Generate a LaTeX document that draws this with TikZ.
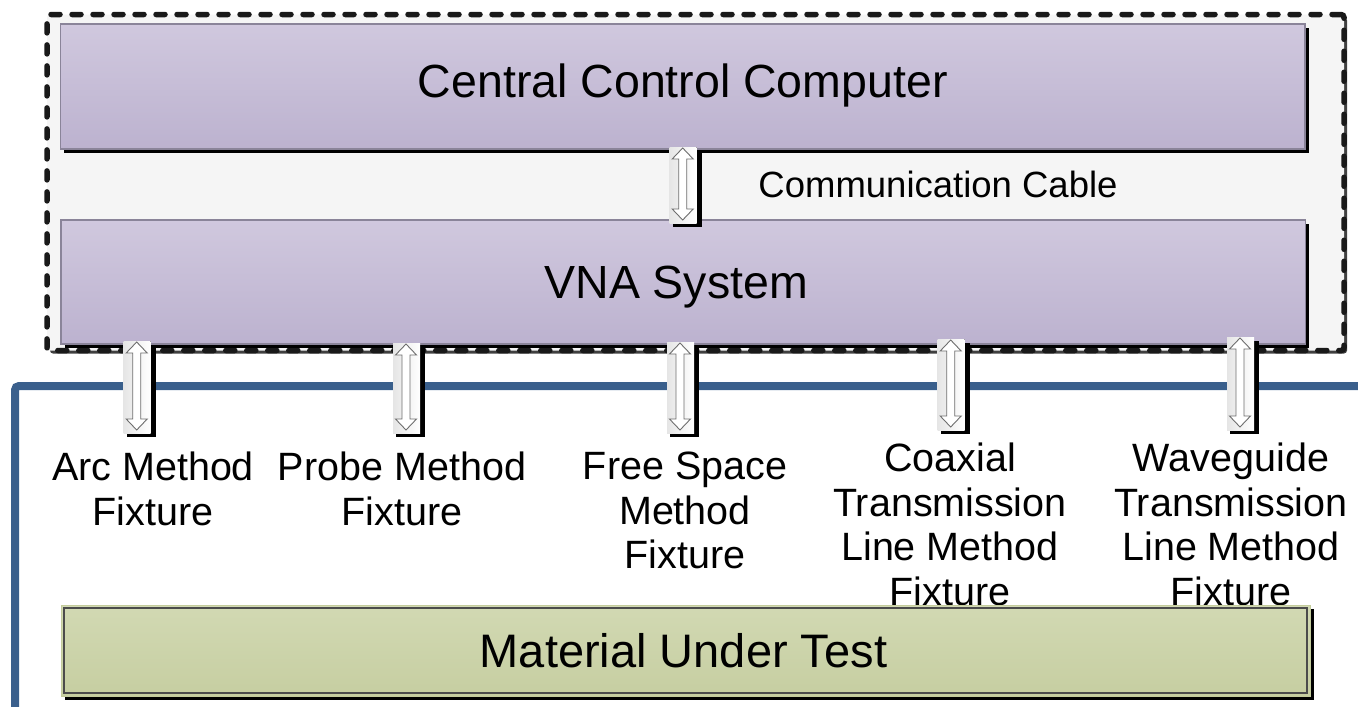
\documentclass[tikz,border=0pt]{standalone}
\usepackage{fontspec}
\setmainfont{Liberation Sans}
\usetikzlibrary{calc,shadows}
\definecolor{lavtop}{HTML}{D0C8DE}
\definecolor{lavbot}{HTML}{BCB2CF}
\definecolor{lavline}{HTML}{8A8499}
\definecolor{grntop}{HTML}{D2D9B3}
\definecolor{grnbot}{HTML}{C6CEA1}
\definecolor{grnedge}{HTML}{C4CC9C}
\definecolor{grnline}{HTML}{4B4B4B}
\definecolor{bluel}{HTML}{3A5F8C}
\definecolor{panelfill}{HTML}{F5F5F5}
\definecolor{arrline}{HTML}{6E6E6E}
\tikzset{
  dblarr/.pic={
    \fill[black] (-10,3) rectangle (19,#1+7);
    \fill[left color=black!10, right color=white] (-13,-1) rectangle (14,#1+3);
    \draw[arrline, fill=white, line width=0.9pt, line join=miter]
      (0,0) -- (10.5,11) -- (4,11) -- (4,#1-11) -- (10.5,#1-11) -- (0,#1)
      -- (-10.5,#1-11) -- (-4,#1-11) -- (-4,11) -- (-10.5,11) -- cycle;
  }
}
\begin{document}
\begin{tikzpicture}[x=1pt,y=-1pt,
  hardshadow/.style={drop shadow={shadow xshift=3.5pt, shadow yshift=-4pt, fill=black, opacity=1}},
  panelbox/.style={draw=black!90, line width=5.5pt, dash pattern=on 9pt off 12pt, line cap=round,
    fill=panelfill, rounded corners=3pt, minimum width=1297pt, minimum height=336pt, inner sep=0pt,
    drop shadow={shadow xshift=3pt, shadow yshift=-3pt, fill=black!75, opacity=1}},
  lavbox/.style={draw=lavline, line width=1.5pt, top color=lavtop, bottom color=lavbot,
    minimum width=1244.5pt, inner sep=0pt, font=\fontsize{46.5}{52}\selectfont, text depth=0pt, hardshadow},
  grnbox/.style={draw=grnedge, line width=1pt, top color=grntop, bottom color=grnbot,
    minimum width=1249pt, minimum height=91pt, inner sep=0pt, font=\fontsize{47}{52}\selectfont,
    text depth=0pt, hardshadow},
  fixlbl/.style={anchor=north, align=center, inner sep=0pt, font=\fontsize{39.5}{44.5}\selectfont},
  cablelbl/.style={anchor=base, inner sep=0pt, font=\fontsize{36.5}{40}\selectfont},
  blueline/.style={draw=bluel, line width=8pt, rounded corners=4pt}
]
\useasboundingbox (0,0) rectangle (1358,707);

% control system panel
\node[panelbox] (frame) at (695.5,182.5) {};
\node[lavbox, minimum height=125pt, text depth=11pt] (ccc) at (682.75,86.5) {Central Control Computer};
\node[lavbox, minimum height=124pt] (vna) at (683.25,282) {VNA System\hspace*{14pt}};

% communication cable
\pic (cable) at (682.7,148) {dblarr=72};
\node[cablelbl] (comm) at (938,197) {Communication Cable};

% test area frame
\coordinate (bl) at (15,715);
\coordinate (tl) at (15,386);
\coordinate (tr) at (1366,386);
\draw[blueline] (bl) -- (tl) -- (tr);

% fixture connections
\pic (arr1) at (136.7,342) {dblarr=88};
\pic (arr2) at (406,344) {dblarr=86};
\pic (arr3) at (680,343) {dblarr=87};
\pic (arr4) at (950.7,340) {dblarr=87};
\pic (arr5) at (1240,338) {dblarr=89};

% fixture labels
\node[fixlbl] (f1) at (153,452) {Arc Method\\Fixture};
\node[fixlbl] (f2) at (402,452) {Probe Method\\Fixture};
\node[fixlbl] (f3) at (685,452) {Free Space\\Method\\Fixture};
\node[fixlbl] (f4) at (950,443) {Coaxial\\Transmission\\Line Method\\Fixture};
\node[fixlbl] (f5) at (1231,443) {Waveguide\\Transmission\\Line Method\\Fixture};

% material under test
\node[grnbox] (mut) at (685.5,650.5) {\hspace*{-4pt}Material Under Test};
\draw[grnline, line width=1.2pt] ($(mut.north west)+(3.5,3.5)$) rectangle ($(mut.south east)+(-3.5,-3.5)$);
\end{tikzpicture}
\end{document}
